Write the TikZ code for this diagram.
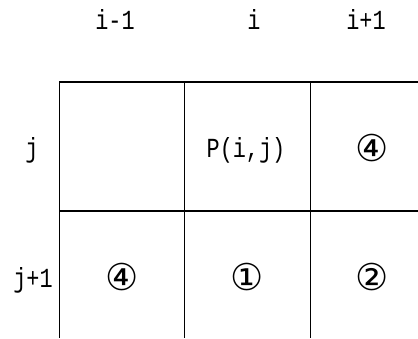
\documentclass[tikz,border=0pt]{standalone}
\usepackage{fontspec}
\usepackage{graphicx}
\setmonofont{Liberation Mono}
\newfontfamily\symfont{DejaVu Sans}
\newcommand{\tall}[1]{\scalebox{0.95}[1.2]{#1}}
\begin{document}
\begin{tikzpicture}[x=1pt,y=-1pt,
  lbl/.style={font=\ttfamily\fontsize{23}{23}\selectfont, inner sep=0pt, anchor=base},
  circ/.style={font=\symfont\fontsize{37}{37}\selectfont, inner sep=0pt},
  hline/.style={line width=1.4pt},
  vline/.style={line width=1pt}]
\useasboundingbox (0,0) rectangle (418,338);
% grid
\coordinate (tl) at (59,82);
\coordinate (tr) at (418,82);
\coordinate (ml) at (59,211);
\coordinate (mr) at (418,211);
\coordinate (b1) at (59,338);
\coordinate (b2) at (184,338);
\coordinate (b3) at (310,338);
\coordinate (t2) at (184,82);
\coordinate (t3) at (310,82);
\draw[hline] (tl) -- (tr);
\draw[hline] (ml) -- (mr);
\draw[vline] (tl) -- (b1);
\draw[vline] (t2) -- (b2);
\draw[vline] (t3) -- (b3);
% column labels
\node[lbl] (im1) at (115,29) {\tall{i-1}};
\node[lbl] (i0) at (254,29) {\tall{i}};
\node[lbl] (ip1) at (366,29) {\tall{i+1}};
% row labels
\node[lbl] (j0) at (32,157) {\tall{j}};
\node[lbl] (jp1) at (33,287) {\tall{j+1}};
% cell contents
\node[lbl] (p) at (246,157) {\tall{P(i,j)}};
\node[circ] (c4a) at (372,148) {④};
\node[circ] (c4b) at (122,277) {④};
\node[circ] (c1) at (247,277) {①};
\node[circ] (c2) at (372,277) {②};
\end{tikzpicture}
\end{document}
